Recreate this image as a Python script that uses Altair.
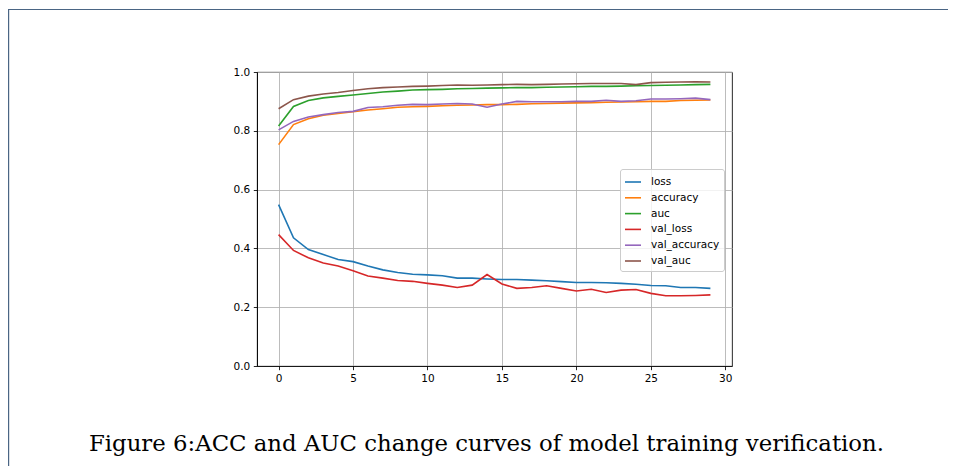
import altair as alt
import pandas as pd

epochs = list(range(30))

loss = [0.549, 0.436, 0.396, 0.379, 0.362, 0.355, 0.340, 0.327, 0.318, 0.312,
        0.310, 0.307, 0.299, 0.299, 0.296, 0.294, 0.294, 0.292, 0.290, 0.287,
        0.284, 0.284, 0.283, 0.281, 0.278, 0.274, 0.273, 0.267, 0.267, 0.264]
accuracy = [0.753, 0.821, 0.841, 0.853, 0.859, 0.865, 0.871, 0.875, 0.880, 0.882,
            0.883, 0.885, 0.887, 0.888, 0.889, 0.889, 0.890, 0.892, 0.893, 0.894,
            0.895, 0.896, 0.897, 0.898, 0.899, 0.900, 0.900, 0.903, 0.904, 0.905]
auc = [0.816, 0.883, 0.903, 0.912, 0.917, 0.922, 0.927, 0.932, 0.935, 0.939,
       0.940, 0.941, 0.943, 0.944, 0.945, 0.946, 0.947, 0.947, 0.948, 0.949,
       0.950, 0.951, 0.951, 0.952, 0.953, 0.954, 0.955, 0.956, 0.957, 0.958]
val_loss = [0.447, 0.393, 0.368, 0.350, 0.340, 0.324, 0.306, 0.299, 0.291, 0.288,
            0.281, 0.275, 0.267, 0.275, 0.311, 0.279, 0.264, 0.267, 0.273, 0.264,
            0.255, 0.261, 0.250, 0.258, 0.260, 0.247, 0.239, 0.239, 0.240, 0.242]
val_accuracy = [0.803, 0.832, 0.847, 0.855, 0.862, 0.866, 0.879, 0.882, 0.887, 0.890,
                0.889, 0.891, 0.893, 0.891, 0.880, 0.891, 0.900, 0.899, 0.899, 0.899,
                0.900, 0.900, 0.904, 0.900, 0.902, 0.908, 0.908, 0.909, 0.911, 0.906]
val_auc = [0.875, 0.906, 0.918, 0.925, 0.930, 0.937, 0.943, 0.947, 0.949, 0.951,
           0.952, 0.954, 0.956, 0.955, 0.956, 0.957, 0.958, 0.957, 0.958, 0.959,
           0.960, 0.961, 0.961, 0.961, 0.957, 0.964, 0.965, 0.966, 0.967, 0.966]

series_names = ["loss", "accuracy", "auc", "val_loss", "val_accuracy", "val_auc"]
series_colors = ["#1f77b4", "#ff7f0e", "#2ca02c", "#d62728", "#9467bd", "#8c564b"]
x_ticks = [0, 5, 10, 15, 20, 25, 30]
y_ticks = [0.0, 0.2, 0.4, 0.6, 0.8, 1.0]
caption = "Figure 6:ACC and AUC change curves of model training verification."

all_series = [loss, accuracy, auc, val_loss, val_accuracy, val_auc]
rows = []
for k, (name, vals) in enumerate(zip(series_names, all_series)):
    for e, v in zip(epochs, vals):
        rows.append({"epoch": e, "value": v, "series": name, "k": k})
df = pd.DataFrame(rows)

W, H = 475, 294
PL, PT = 249, 64
CW, CH = 940, 458

lines = alt.Chart(df).mark_line(strokeWidth=1.6).encode(
    x=alt.X("epoch:Q",
            scale=alt.Scale(domain=[-1.45, 30.45], nice=False, zero=False),
            axis=alt.Axis(values=x_ticks, title=None, format="d")),
    y=alt.Y("value:Q",
            scale=alt.Scale(domain=[0, 1], nice=False, zero=False),
            axis=alt.Axis(values=y_ticks, title=None, format=".1f")),
    color=alt.Color("series:N",
                    scale=alt.Scale(domain=series_names, range=series_colors),
                    sort=series_names,
                    legend=alt.Legend(title=None, orient="none",
                                      legendX=363, legendY=97)),
    detail="k:O",
)

frame_df = pd.DataFrame({"d": [0]})
frame_top = alt.Chart(frame_df).mark_rule(color="#4a6584", strokeWidth=1.2).encode(
    x=alt.value(-PL), x2=alt.value(CW - PL), y=alt.value(-PT + 1.5))
frame_left = alt.Chart(frame_df).mark_rule(color="#4a6584", strokeWidth=1.2).encode(
    x=alt.value(-PL + 0.6), y=alt.value(-PT + 1.5), y2=alt.value(CH - PT))

cap_df = pd.DataFrame({"t": [caption]})
cap = alt.Chart(cap_df).mark_text(font="DejaVu Serif", fontSize=22.8, align="center",
                                  baseline="alphabetic", color="black").encode(
    x=alt.value(229.5), y=alt.value(378.5), text="t:N")

chart = alt.layer(frame_top, frame_left, lines, cap).properties(
    width=W, height=H,
    padding={"left": PL, "top": PT, "right": CW - PL - W, "bottom": CH - PT - H},
    autosize=alt.AutoSizeParams(type="none"),
    background="white",
).configure_view(
    stroke="black", strokeWidth=0.85
).configure_axis(
    domainColor="black", domainWidth=0.85,
    tickColor="black", tickWidth=0.85, tickSize=3.7,
    grid=True, gridColor="#b0b0b0", gridWidth=0.85,
    labelFont="DejaVu Sans", labelFontSize=10.5, labelColor="black",
    labelPadding=3.5,
).configure_legend(
    fillColor="rgba(255,255,255,0.8)", strokeColor="#cccccc", cornerRadius=2.5,
    padding=4, symbolType="stroke", symbolStrokeWidth=1.6, symbolSize=256,
    labelFont="DejaVu Sans", labelFontSize=10.5, labelColor="black",
    rowPadding=0.8, labelOffset=9,
)

chart.save("out.html", embed_options={"renderer": "svg", "actions": False})
